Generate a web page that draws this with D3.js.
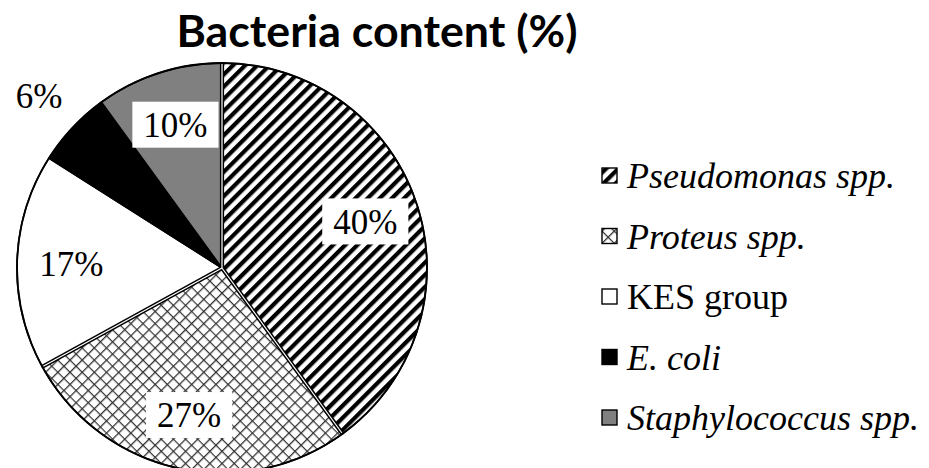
<!DOCTYPE html>
<html>
<head>
<meta charset="utf-8">
<script src="https://cdn.jsdelivr.net/npm/d3@7"></script>
<style>
  html, body { margin: 0; padding: 0; background: #ffffff; }
  svg { display: block; }
</style>
</head>
<body>
<svg id="chart" width="929" height="468"></svg>
<script>
// Share of each bacterial group in the samples (%)
const categories = ["Pseudomonas spp.", "Proteus spp.", "KES group", "E. coli", "Staphylococcus spp."];
const values = [40, 27, 17, 6, 10];
const italicNames = [true, true, false, true, true];
const fills = ["url(#stripes)", "url(#crosshatch)", "#ffffff", "#000000", "#808080"];
const chartTitle = "Bacteria content (%)";

const width = 929, height = 468;
const cx = 222, cy = 268, radius = 205;

const svg = d3.select("#chart");
const defs = svg.append("defs");

// Wide upward-diagonal stripes
const stripes = defs.append("pattern")
  .attr("id", "stripes")
  .attr("patternUnits", "userSpaceOnUse")
  .attr("width", 8.6).attr("height", 8.6)
  .attr("patternTransform", "rotate(45)");
stripes.append("rect").attr("width", 8.6).attr("height", 8.6).attr("fill", "#ffffff");
stripes.append("rect").attr("x", 0).attr("width", 4.2).attr("height", 8.6).attr("fill", "#000000");

// Diagonal crosshatch
const cross = defs.append("pattern")
  .attr("id", "crosshatch")
  .attr("patternUnits", "userSpaceOnUse")
  .attr("width", 8.6).attr("height", 8.6)
  .attr("patternTransform", "rotate(45)");
cross.append("rect").attr("width", 8.6).attr("height", 8.6).attr("fill", "#ffffff");
cross.append("path").attr("d", "M0,0.6H8.6M0.6,0V8.6")
  .attr("stroke", "#333333").attr("stroke-width", 1.4).attr("fill", "none");

// Title
const titleText = svg.append("text")
  .attr("x", 377).attr("y", 47)
  .attr("text-anchor", "middle")
  .attr("font-family", "Lato, 'Open Sans', sans-serif")
  .attr("font-weight", "bold")
  .attr("font-size", 44)
  .attr("fill", "#000")
  .text(chartTitle);
const tw = titleText.node().getComputedTextLength();
titleText.attr("font-size", 44 * 401 / tw);

// Pie
const data = categories.map((c, i) => ({ name: c, value: values[i], fill: fills[i], italic: italicNames[i] }));
const pie = d3.pie().sort(null).value(d => d.value).startAngle(0).endAngle(2 * Math.PI);
const arcs = pie(data);
const arc = d3.arc().innerRadius(0).outerRadius(radius);
const total = d3.sum(values);

const g = svg.append("g").attr("transform", `translate(${cx},${cy})`);

g.selectAll("path.slice")
  .data(arcs)
  .join("path")
  .attr("class", "slice")
  .attr("d", arc)
  .attr("fill", d => d.data.fill)
  .attr("stroke", "#000")
  .attr("stroke-width", 1.6)
  .attr("stroke-linejoin", "miter");

// Double rules along the radial edges of the patterned slices
const edgeAngles = [];
arcs.forEach(d => {
  if (String(d.data.fill).startsWith("url")) {
    edgeAngles.push(d.startAngle, d.endAngle);
  }
});
const uniqueEdges = Array.from(new Set(edgeAngles.map(a => +a.toFixed(6))));
const pt = a => [radius * Math.sin(a), -radius * Math.cos(a)];
g.selectAll("line.edgeBlack")
  .data(uniqueEdges)
  .join("line")
  .attr("class", "edgeBlack")
  .attr("x1", 0).attr("y1", 0)
  .attr("x2", a => pt(a)[0]).attr("y2", a => pt(a)[1])
  .attr("stroke", "#000").attr("stroke-width", 4.2);
g.selectAll("line.edgeWhite")
  .data(uniqueEdges)
  .join("line")
  .attr("class", "edgeWhite")
  .attr("x1", 0).attr("y1", 0)
  .attr("x2", a => pt(a)[0] * 0.995).attr("y2", a => pt(a)[1] * 0.995)
  .attr("stroke", "#fff").attr("stroke-width", 1.2);

// Outer rim
g.append("circle").attr("r", radius).attr("fill", "none")
  .attr("stroke", "#000").attr("stroke-width", 1.8);

// Percentage labels
const labelFont = "'Liberation Serif', 'Times New Roman', serif";
const labelSize = 35;
arcs.forEach(d => {
  const mid = (d.startAngle + d.endAngle) / 2;
  const share = d.data.value / total;
  const outside = share < 0.08;
  const r = outside ? radius + 46 : radius * 0.735;
  const x = r * Math.sin(mid), y = -r * Math.cos(mid);
  const lg = g.append("g").attr("transform", `translate(${x},${y})`);
  const t = lg.append("text")
    .attr("text-anchor", "middle")
    .attr("dy", "0.35em")
    .attr("font-family", labelFont)
    .attr("font-size", labelSize)
    .attr("fill", "#000")
    .text(`${d.data.value}%`);
  if (!outside) {
    const bb = t.node().getBBox();
    lg.insert("rect", "text")
      .attr("x", -bb.width / 2 - 11)
      .attr("y", -23)
      .attr("width", bb.width + 22)
      .attr("height", 46)
      .attr("fill", "#fff");
  }
});

// Legend
const legendY = d3.scalePoint().domain(categories).range([188, 430]);
const legend = svg.append("g");
const rows = legend.selectAll("g.row")
  .data(data)
  .join("g")
  .attr("class", "row")
  .attr("transform", d => `translate(0,${legendY(d.name)})`);
rows.append("rect")
  .attr("x", 602).attr("y", -20)
  .attr("width", 15).attr("height", 15)
  .attr("fill", d => d.fill)
  .attr("stroke", "#000").attr("stroke-width", 1.4);
rows.append("text")
  .attr("x", 627).attr("y", 0)
  .attr("font-family", labelFont)
  .attr("font-size", 36)
  .attr("font-style", d => d.italic ? "italic" : "normal")
  .attr("fill", "#000")
  .text(d => d.name);
</script>
</body>
</html>
